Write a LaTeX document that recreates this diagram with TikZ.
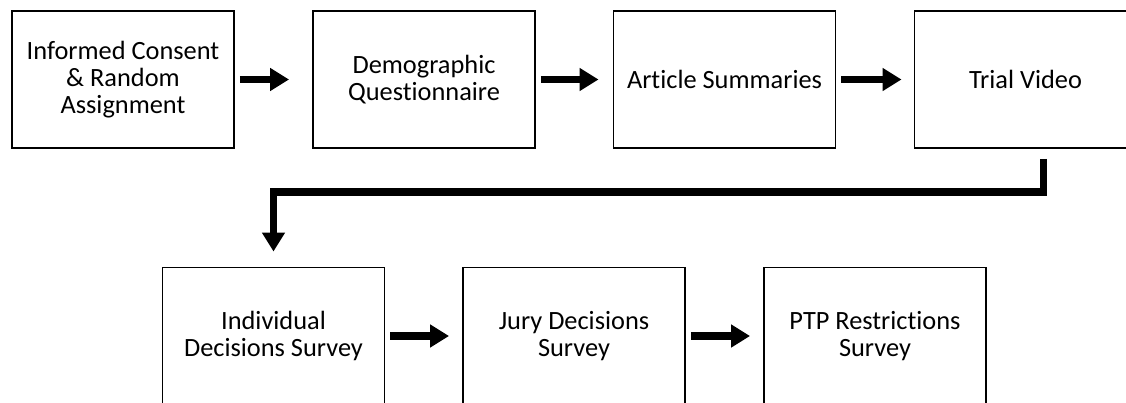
\documentclass[tikz,border=0pt]{standalone}
\usepackage{fontspec}
\setmainfont{Carlito}[Ligatures=CommonOff]
\usetikzlibrary{arrows.meta,positioning}
\tikzset{
	stage/.style={draw,line width=1.1pt,minimum width=4.44cm,minimum height=2.74cm,align=center,inner sep=2pt},
	flow/.style={-{Triangle[length=0.38cm,width=0.44cm]},line width=0.15cm}
}
\begin{document}
\begin{tikzpicture}[font=\fontsize{15}{15.5}\selectfont]
	\useasboundingbox (0,0) rectangle (22.52,8.04);
	% top row
	\node[stage] (consent) at (2.46,6.45) {Informed Consent\\\& Random\\Assignment};
	\node[stage] (demo) at (8.48,6.45) {Demographic\\Questionnaire};
	\node[stage] (article) at (14.49,6.45) {Article Summaries};
	\node[stage] (trial) at (20.51,6.45) {Trial Video};
	% bottom row
	\node[stage] (indiv) at (5.47,1.32) {Individual\\Decisions Survey};
	\node[stage] (jury) at (11.48,1.32) {Jury Decisions\\Survey};
	\node[stage] (ptp) at (17.5,1.32) {PTP Restrictions\\Survey};
	\foreach \a/\b/\s in {consent/demo/0.46cm,demo/article/0.28cm,article/trial/0.24cm,indiv/jury/0.26cm,jury/ptp/0.26cm}
	\draw[flow,shorten <=0.1cm,shorten >=\s] (\a) -- (\b);
	\draw[flow] ([xshift=0.36cm,yshift=-0.2cm]trial.south) -- ++(0,-0.66) -| ([yshift=0.3cm]indiv.north);
\end{tikzpicture}
\end{document}
